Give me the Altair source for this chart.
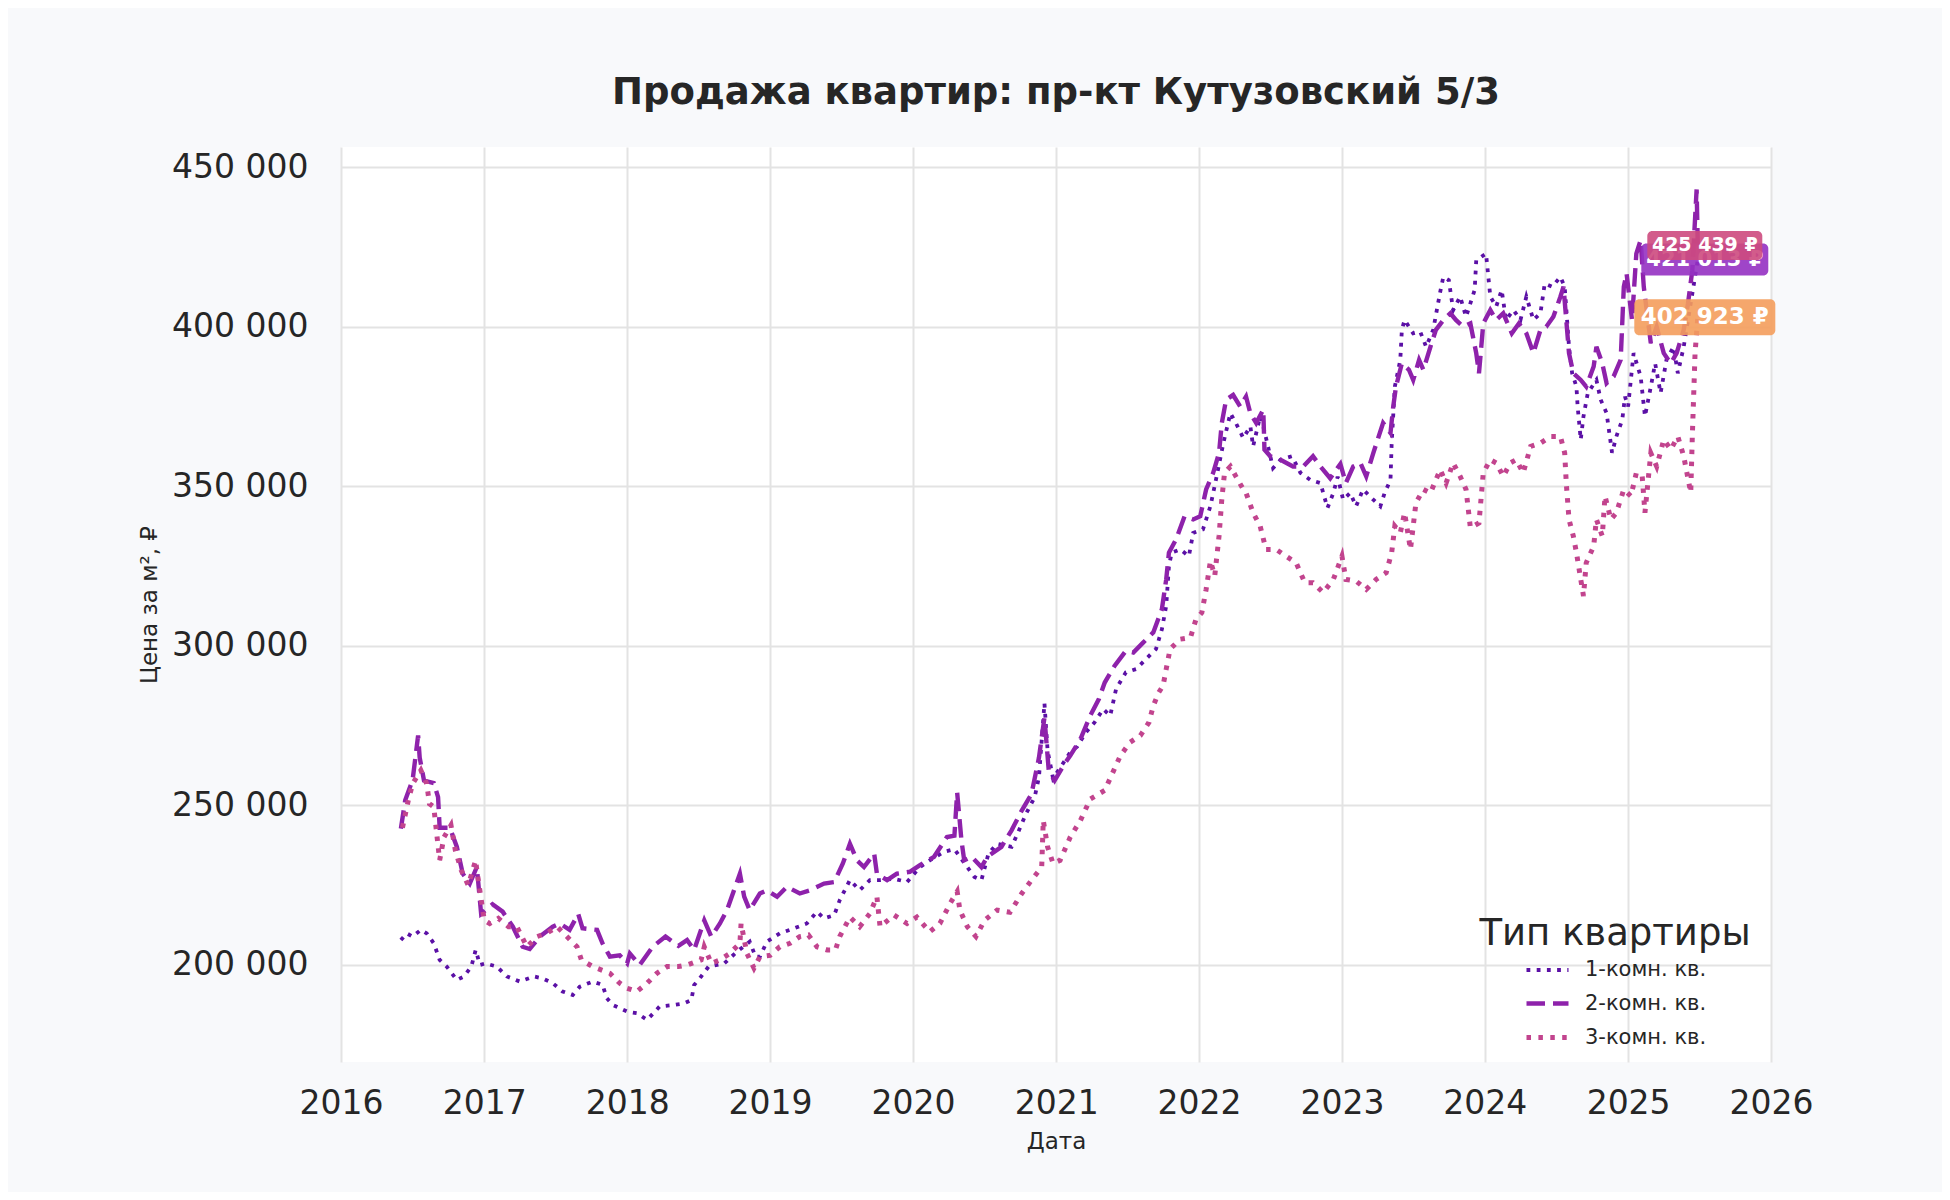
import altair as alt
import pandas as pd

# ---------------- data ----------------
types = ["1-комн. кв.", "2-комн. кв.", "3-комн. кв."]

one_t = [2016.42, 2016.46, 2016.50, 2016.56, 2016.60, 2016.65, 2016.69, 2016.74, 2016.81, 2016.86,
         2016.91, 2016.94, 2016.97, 2017.01, 2017.09, 2017.16, 2017.25, 2017.35, 2017.41, 2017.48,
         2017.55, 2017.62, 2017.67, 2017.76, 2017.83, 2017.86, 2017.90, 2018.00, 2018.07, 2018.14,
         2018.23, 2018.33, 2018.40, 2018.45, 2018.47, 2018.52, 2018.57, 2018.68, 2018.77, 2018.86,
         2018.90, 2018.93, 2018.98, 2019.07, 2019.17, 2019.26, 2019.33, 2019.38, 2019.45, 2019.49,
         2019.56, 2019.63, 2019.70, 2019.77, 2019.87, 2019.96, 2020.05, 2020.12, 2020.22, 2020.29,
         2020.36, 2020.43, 2020.48, 2020.53, 2020.59, 2020.69, 2020.73, 2020.79, 2020.85, 2020.88,
         2020.92, 2020.94, 2020.98, 2021.04, 2021.10, 2021.15, 2021.21, 2021.27, 2021.33, 2021.38,
         2021.42, 2021.49, 2021.56, 2021.63, 2021.70, 2021.74, 2021.77, 2021.79, 2021.81, 2021.87,
         2021.93, 2021.96, 2022.03, 2022.08, 2022.12, 2022.17, 2022.22, 2022.26, 2022.31, 2022.36,
         2022.38, 2022.43, 2022.45, 2022.52, 2022.57, 2022.65, 2022.71, 2022.78, 2022.85, 2022.90,
         2022.94, 2022.97, 2023.01, 2023.06, 2023.10, 2023.15, 2023.22, 2023.27, 2023.30, 2023.34,
         2023.35, 2023.37, 2023.41, 2023.42, 2023.44, 2023.50, 2023.55, 2023.59, 2023.64, 2023.69,
         2023.71, 2023.75, 2023.78, 2023.83, 2023.87, 2023.93, 2023.94, 2024.01, 2024.04, 2024.08,
         2024.12, 2024.15, 2024.20, 2024.25, 2024.29, 2024.34, 2024.39, 2024.42, 2024.47, 2024.53,
         2024.56, 2024.59, 2024.61, 2024.64, 2024.65, 2024.67, 2024.69, 2024.72, 2024.78, 2024.81,
         2024.85, 2024.89, 2024.92, 2024.96, 2024.98, 2025.00, 2025.04, 2025.09, 2025.12, 2025.16,
         2025.19, 2025.23, 2025.27, 2025.32, 2025.35, 2025.39, 2025.44, 2025.49]
one_v = [207.8, 209.9, 208.9, 211.0, 209.9, 206.8, 201.6, 199.5, 195.3, 196.4,
         199.5, 204.7, 200.0, 200.5, 199.5, 196.4, 194.8, 196.4, 195.8, 194.3,
         191.7, 190.6, 193.2, 194.8, 193.8, 189.6, 187.5, 185.4, 184.9, 182.8,
         187.0, 187.5, 188.0, 189.0, 193.7, 196.4, 199.5, 200.5, 204.2, 207.3,
         202.6, 202.6, 207.3, 209.9, 211.5, 213.0, 216.7, 214.6, 215.6, 220.3,
         226.6, 223.4, 226.6, 226.6, 227.0, 226.0, 230.7, 232.8, 235.5, 236.3,
         232.0, 227.6, 226.6, 234.9, 238.0, 237.0, 241.1, 247.4, 252.6, 258.9,
         282.0, 267.2, 258.5, 262.5, 266.7, 268.5, 272.9, 276.0, 280.2, 278.1,
         286.5, 291.7, 292.7, 295.8, 299.0, 305.2, 312.5, 325.0, 329.2, 330.2,
         328.1, 335.4, 336.5, 343.8, 352.0, 363.5, 372.9, 369.8, 365.1, 368.8,
         362.5, 371.9, 368.8, 355.7, 358.3, 359.4, 354.2, 352.0, 351.0, 343.2,
         347.9, 353.0, 345.8, 347.9, 343.7, 349.0, 345.8, 343.7, 347.9, 352.0,
         363.5, 381.2, 389.6, 399.0, 402.1, 397.9, 398.4, 393.7, 399.0, 410.9,
         415.6, 414.6, 405.2, 409.4, 403.1, 411.5, 420.8, 422.9, 409.4, 406.3,
         411.5, 402.1, 405.2, 402.1, 409.4, 402.1, 404.2, 413.5, 412.5, 415.6,
         412.5, 393.7, 385.4, 381.2, 375.0, 364.6, 371.9, 379.2, 383.3, 377.1,
         372.9, 360.5, 365.6, 370.8, 378.1, 375.0, 391.7, 384.4, 371.9, 381.2,
         388.5, 379.2, 389.6, 393.7, 385.4, 393.7, 407.3, 421.013]

two_t = [2016.42, 2016.45, 2016.50, 2016.54, 2016.55, 2016.58, 2016.65, 2016.68, 2016.69, 2016.76,
         2016.81, 2016.85, 2016.90, 2016.95, 2016.97, 2016.98, 2017.06, 2017.13, 2017.20, 2017.27,
         2017.32, 2017.39, 2017.48, 2017.53, 2017.60, 2017.66, 2017.69, 2017.79, 2017.83, 2017.88,
         2017.95, 2018.00, 2018.02, 2018.09, 2018.18, 2018.27, 2018.36, 2018.42, 2018.47, 2018.54,
         2018.59, 2018.65, 2018.70, 2018.79, 2018.82, 2018.86, 2018.93, 2018.98, 2019.05, 2019.12,
         2019.21, 2019.28, 2019.38, 2019.45, 2019.51, 2019.56, 2019.61, 2019.66, 2019.73, 2019.75,
         2019.82, 2019.89, 2019.98, 2020.05, 2020.15, 2020.24, 2020.29, 2020.31, 2020.34, 2020.36,
         2020.41, 2020.48, 2020.52, 2020.62, 2020.69, 2020.76, 2020.83, 2020.88, 2020.92, 2020.95,
         2020.99, 2021.06, 2021.10, 2021.17, 2021.24, 2021.30, 2021.34, 2021.41, 2021.49, 2021.54,
         2021.61, 2021.68, 2021.74, 2021.77, 2021.79, 2021.84, 2021.90, 2021.96, 2022.01, 2022.05,
         2022.10, 2022.14, 2022.16, 2022.19, 2022.24, 2022.29, 2022.33, 2022.36, 2022.40, 2022.45,
         2022.46, 2022.50, 2022.57, 2022.66, 2022.73, 2022.80, 2022.85, 2022.92, 2022.99, 2023.03,
         2023.08, 2023.13, 2023.17, 2023.22, 2023.29, 2023.34, 2023.36, 2023.38, 2023.42, 2023.47,
         2023.50, 2023.54, 2023.57, 2023.62, 2023.66, 2023.71, 2023.76, 2023.80, 2023.85, 2023.90,
         2023.94, 2023.96, 2023.99, 2024.04, 2024.08, 2024.13, 2024.19, 2024.24, 2024.29, 2024.34,
         2024.39, 2024.43, 2024.48, 2024.53, 2024.55, 2024.57, 2024.59, 2024.62, 2024.67, 2024.71,
         2024.76, 2024.78, 2024.82, 2024.85, 2024.90, 2024.95, 2024.97, 2024.99, 2025.03, 2025.06,
         2025.09, 2025.11, 2025.16, 2025.20, 2025.25, 2025.30, 2025.34, 2025.39, 2025.42, 2025.45,
         2025.48, 2025.49]
two_v = [242.7, 251.6, 258.0, 271.9, 265.0, 257.8, 257.0, 252.6, 243.0, 243.0,
         237.0, 228.6, 225.5, 230.7, 220.0, 216.0, 219.0, 216.7, 212.0, 205.7,
         205.0, 208.9, 212.0, 213.0, 211.0, 216.0, 211.5, 211.0, 206.8, 202.6,
         203.0, 200.5, 203.6, 200.0, 205.7, 208.9, 206.0, 207.8, 204.7, 214.0,
         208.9, 213.0, 217.2, 228.6, 221.4, 217.2, 222.4, 223.4, 221.4, 224.5,
         222.4, 223.4, 225.5, 226.0, 231.8, 238.0, 232.8, 230.7, 234.9, 228.6,
         226.6, 228.6, 229.2, 231.3, 233.9, 240.1, 240.5, 254.0, 239.0, 232.8,
         233.9, 230.7, 233.9, 237.0, 242.2, 248.4, 253.6, 265.0, 277.5, 260.9,
         257.8, 263.0, 265.6, 270.8, 278.1, 283.3, 288.5, 293.7, 298.4, 297.9,
         301.0, 304.2, 311.5, 320.8, 329.2, 333.3, 340.6, 339.6, 340.6, 349.0,
         354.2, 360.4, 369.8, 377.1, 378.6, 375.0, 378.1, 372.9, 369.8, 374.0,
         361.5, 359.4, 358.3, 356.2, 356.2, 359.4, 356.2, 352.5, 357.0, 351.0,
         356.2, 357.3, 353.1, 360.4, 369.8, 366.7, 375.0, 381.2, 388.5, 386.5,
         383.3, 389.6, 386.5, 393.7, 399.0, 402.1, 404.2, 402.1, 400.0, 401.0,
         391.7, 385.4, 401.0, 405.2, 402.1, 404.2, 397.9, 401.0, 397.9, 391.7,
         399.0, 400.0, 403.1, 409.4, 412.5, 402.1, 391.7, 385.4, 383.3, 381.2,
         387.5, 393.7, 388.5, 382.3, 384.4, 389.6, 412.5, 416.7, 402.1, 422.9,
         427.1, 412.5, 394.8, 400.0, 391.7, 388.5, 391.7, 399.0, 407.3, 417.7,
         443.0, 425.439]

three_t = [2016.43, 2016.47, 2016.50, 2016.56, 2016.60, 2016.62, 2016.65, 2016.69, 2016.72, 2016.77,
           2016.80, 2016.84, 2016.89, 2016.94, 2016.95, 2017.00, 2017.04, 2017.10, 2017.17, 2017.23,
           2017.30, 2017.37, 2017.44, 2017.51, 2017.58, 2017.65, 2017.68, 2017.76, 2017.88, 2017.95,
           2018.00, 2018.07, 2018.14, 2018.21, 2018.28, 2018.36, 2018.42, 2018.52, 2018.54, 2018.59,
           2018.65, 2018.72, 2018.79, 2018.80, 2018.84, 2018.89, 2018.93, 2019.00, 2019.07, 2019.14,
           2019.21, 2019.27, 2019.33, 2019.40, 2019.46, 2019.49, 2019.56, 2019.63, 2019.70, 2019.75,
           2019.77, 2019.87, 2019.96, 2020.03, 2020.12, 2020.19, 2020.26, 2020.31, 2020.33, 2020.38,
           2020.44, 2020.50, 2020.59, 2020.68, 2020.76, 2020.83, 2020.90, 2020.91, 2020.94, 2020.98,
           2021.03, 2021.10, 2021.17, 2021.24, 2021.34, 2021.41, 2021.45, 2021.52, 2021.59, 2021.65,
           2021.68, 2021.72, 2021.75, 2021.77, 2021.80, 2021.87, 2021.94, 2021.98, 2022.02, 2022.05,
           2022.08, 2022.11, 2022.14, 2022.16, 2022.18, 2022.22, 2022.26, 2022.31, 2022.33, 2022.38,
           2022.43, 2022.47, 2022.54, 2022.61, 2022.68, 2022.74, 2022.80, 2022.87, 2022.94, 2023.00,
           2023.03, 2023.10, 2023.17, 2023.24, 2023.31, 2023.35, 2023.37, 2023.41, 2023.44, 2023.48,
           2023.52, 2023.57, 2023.62, 2023.69, 2023.73, 2023.78, 2023.83, 2023.87, 2023.90, 2023.96,
           2023.99, 2024.04, 2024.08, 2024.13, 2024.18, 2024.22, 2024.27, 2024.32, 2024.39, 2024.46,
           2024.53, 2024.56, 2024.57, 2024.59, 2024.62, 2024.64, 2024.67, 2024.69, 2024.71, 2024.76,
           2024.78, 2024.82, 2024.84, 2024.88, 2024.92, 2024.97, 2025.02, 2025.06, 2025.10, 2025.12,
           2025.16, 2025.20, 2025.25, 2025.30, 2025.35, 2025.39, 2025.44, 2025.45, 2025.47, 2025.49]
three_v = [243.0, 251.6, 256.8, 261.0, 256.8, 250.5, 249.5, 232.8, 240.0, 243.8,
           236.0, 229.7, 225.0, 232.8, 229.7, 214.0, 213.0, 214.6, 212.0, 212.0,
           205.7, 208.9, 210.0, 212.0, 208.9, 205.7, 201.6, 199.5, 197.4, 194.3,
           192.7, 191.7, 194.3, 197.4, 199.5, 199.5, 200.0, 201.6, 205.7, 200.5,
           201.6, 203.6, 206.8, 213.0, 203.6, 199.0, 202.6, 203.0, 205.7, 206.8,
           208.9, 209.4, 205.7, 204.7, 204.7, 208.9, 215.0, 212.0, 216.1, 221.4,
           212.0, 215.6, 213.0, 215.0, 210.4, 213.0, 219.3, 223.0, 217.2, 212.0,
           208.9, 214.0, 217.2, 216.5, 222.4, 226.6, 230.7, 245.3, 237.0, 231.8,
           232.8, 240.1, 245.3, 252.0, 254.7, 261.5, 265.6, 269.8, 271.9, 276.0,
           281.2, 285.4, 287.5, 292.7, 299.0, 302.1, 302.6, 308.3, 310.4, 317.7,
           326.6, 321.9, 334.4, 345.8, 354.2, 356.2, 353.1, 349.0, 347.9, 341.7,
           337.5, 330.2, 330.2, 328.1, 326.0, 319.8, 319.8, 316.7, 320.8, 328.1,
           320.8, 320.3, 317.7, 320.8, 322.9, 329.2, 337.5, 335.4, 341.7, 330.2,
           344.8, 349.0, 347.9, 355.2, 351.0, 357.3, 353.1, 349.0, 337.0, 338.5,
           354.2, 358.3, 357.3, 353.1, 357.3, 358.3, 354.2, 362.5, 363.5, 365.6,
           365.6, 360.4, 351.0, 339.6, 334.4, 329.2, 320.8, 315.6, 326.0, 331.2,
           339.6, 334.4, 346.9, 339.6, 341.7, 349.0, 346.9, 354.2, 353.1, 341.7,
           360.4, 356.2, 364.6, 361.5, 365.6, 359.4, 348.0, 365.6, 391.7, 402.923]

colors = ["#5b10a6", "#8e22ab", "#c2448e"]
dashes = [[3.8, 6.4], [18.5, 8], [4.5, 7.4]]
widths = [3.8, 5.0, 4.5]

label_text = ["421 013 ₽", "425 439 ₽", "402 923 ₽"]
label_value = [421013, 425439, 402923]
label_fill = ["#9531c2", "#cd4a7e", "#f49d5c"]
label_size = [21, 19, 23]
label_w = [127, 115, 141]
label_h = [32, 29, 36]
last_t = 2025.49


def dec_to_date(t):
    y = int(t)
    start = pd.Timestamp(y, 1, 1)
    days = 366 if pd.Timestamp(y, 12, 31).dayofyear == 366 else 365
    return (start + pd.Timedelta(days=(t - y) * days)).strftime("%Y-%m-%d")


rows = []
for name, ts, vs in [(types[0], one_t, one_v), (types[1], two_t, two_v), (types[2], three_t, three_v)]:
    for t, v in zip(ts, vs):
        rows.append({"date": dec_to_date(t), "value": v * 1000, "type": name})
df = pd.DataFrame(rows)

labels_df = pd.DataFrame({
    "date": [dec_to_date(last_t)] * 3,
    "value": label_value,
    "label": label_text,
})

FONT = "DejaVu Sans"
TXT = "#262626"

x_enc = alt.X(
    "date:T",
    title="Дата",
    scale=alt.Scale(domain=[alt.DateTime(year=2016, month=1, date=1),
                            alt.DateTime(year=2026, month=1, date=1)]),
    axis=alt.Axis(values=[alt.DateTime(year=y, month=1, date=1) for y in range(2016, 2027)],
                  format="%Y", labelPadding=25, titlePadding=10,
                  labelFlush=False, labelOverlap=False),
)
y_enc = alt.Y(
    "value:Q",
    title="Цена за м², ₽",
    scale=alt.Scale(domain=[169600, 456300], nice=False, zero=False),
    axis=alt.Axis(values=[200000, 250000, 300000, 350000, 400000, 450000],
                  labelExpr="format(floor(datum.value / 1000), 'd') + ' 000'",
                  labelPadding=33, titlePadding=10, labelFlush=False, labelOverlap=False),
)

leg = alt.Legend(title=None, orient="none", legendX=1183, legendY=800,
                 symbolType="stroke", symbolSize=1764, symbolStrokeWidth=4,
                 labelFontSize=21, labelFont=FONT, labelColor=TXT, labelOffset=14,
                 rowPadding=0, padding=0)

lines = alt.Chart(df).mark_line(strokeCap="butt").encode(
    x=x_enc,
    y=y_enc,
    color=alt.Color("type:N", scale=alt.Scale(domain=types, range=colors), legend=leg),
    strokeDash=alt.StrokeDash("type:N", scale=alt.Scale(domain=types, range=dashes), legend=leg),
    strokeWidth=alt.StrokeWidth("type:N", scale=alt.Scale(domain=types, range=widths), legend=None),
)

leg_title = alt.Chart(pd.DataFrame({"t": ["Тип квартиры"]})).mark_text(
    font=FONT, fontSize=37, color=TXT, align="center", baseline="alphabetic"
).encode(x=alt.value(1274), y=alt.value(798), text="t:N")

layers = [lines, leg_title]
for i, txt in enumerate(label_text):
    base = alt.Chart(labels_df).transform_filter(alt.datum.label == txt)
    box = base.mark_rect(width=label_w[i], height=label_h[i], cornerRadius=5,
                         opacity=0.9, xOffset=7).encode(
        x="date:T", y="value:Q", color=alt.value(label_fill[i]))
    lab = base.mark_text(font=FONT, fontSize=label_size[i], fontWeight="bold",
                         color="white", dx=7, align="center", baseline="middle").encode(
        x="date:T", y="value:Q", text="label:N")
    layers += [box, lab]

chart = alt.layer(*layers).properties(
    width=1430,
    height=915,
    title=alt.Title("Продажа квартир: пр-кт Кутузовский 5/3", font=FONT, fontSize=37,
                    fontWeight="bold", color=TXT, anchor="middle", frame="group", offset=35),
    autosize=alt.AutoSizeParams(type="none"),
    padding={"left": 333, "top": 139, "right": 171, "bottom": 130},
).configure(
    background="#f8f9fb",
).configure_view(
    fill="white", stroke=None,
).configure_axis(
    grid=True, gridColor="#e3e3e3", gridWidth=2, domain=False, ticks=False, tickSize=0,
    labelFont=FONT, labelFontSize=33, labelColor=TXT,
    titleFont=FONT, titleFontSize=23, titleFontWeight="normal", titleColor=TXT,
)

chart.save("out.html", embed_options={"renderer": "svg", "actions": False})
